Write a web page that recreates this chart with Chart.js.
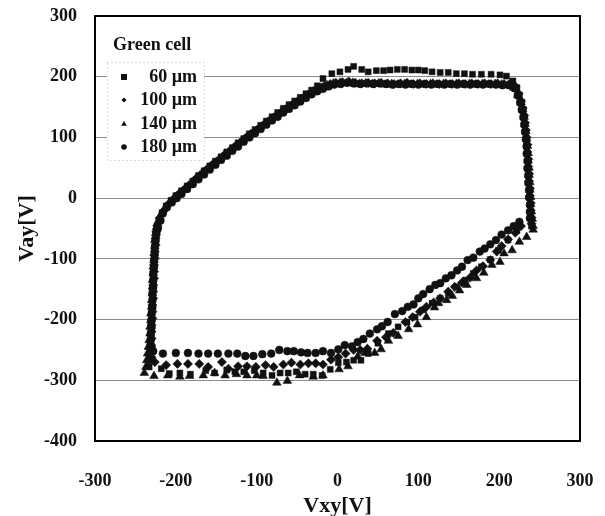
<!DOCTYPE html>
<html><head><meta charset="utf-8">
<script src="https://cdn.jsdelivr.net/npm/chart.js@4.4.0/dist/chart.umd.min.js"></script>
<style>html,body{margin:0;padding:0;background:#fff;}</style>
</head><body>
<canvas id="c" width="605" height="516"></canvas>
<script>
// ---- data ----
const legendTitle = 'Green cell';
const seriesLabels = ['60 µm', '100 µm', '140 µm', '180 µm'];
const xTicks = [-300, -200, -100, 0, 100, 200, 300];
const yTicks = [-400, -300, -200, -100, 0, 100, 200, 300];
const xTitle = 'Vxy[V]';
const yTitle = 'Vay[V]';

// 60 µm (squares)
const x60 = [-233,-234,-233,-232,-232,-231,-231,-231,-230,-230,-229,-229,-229,-228,-228,-228,-227,-227,-226,-226,-225,-224,
  -221,-217,-212,-206,-200,-193,-186,-179,-172,-165,-158,-151,-144,-137,-130,-123,-116,-109,-102,-95,-88,-81,-74,-67,-60,-53,-46,-39,-32,-25,-18,
  -7,3,13,20,30,38,48,57,65,74,83,92,100,108,117,127,137,147,157,167,178,190,201,209,217,
  222,225,228,230,231,232,233,234,234,235,236,236,237,237,238,238,239,239,240,240,
  222,211,199,189,178,168,158,147,137,127,117,106,96,86,75,63,50,38,29,20,11,1,-9,
  -19,-30,-40,-51,-61,-71,-81,-92,-103,-116,-127,-137,-152,-163,-182,-195,-208,-218];
const y60 = [-278,-268,-258,-247,-236,-225,-214,-203,-192,-181,-170,-159,-148,-137,-126,-115,-104,-93,-82,-71,-60,-50,
  -36,-24,-13,-4,4,12,20,28,37,45,53,61,68,76,83,91,98,106,113,120,127,134,141,148,154,160,166,172,178,185,197,
  205,208,212,217,212,208,210,210,211,212,212,211,211,210,208,207,207,205,205,204,204,204,203,201,193,
  182,170,158,146,134,122,110,98,86,74,62,50,38,26,14,2,-10,-22,-34,-46,
  -53,-69,-86,-101,-113,-124,-135,-146,-157,-165,-173,-184,-196,-204,-212,-223,-239,-256,-267,-267,-270,-271,-282,
  -292,-290,-290,-286,-288,-288,-292,-288,-284,-286,-286,-283,-288,-284,-290,-288,-289,-281];

// 100 µm (diamonds)
const x100 = [-226,-230,-231,-231,-230,-230,-230,-229,-229,-229,-228,-228,-228,-227,-227,-227,-226,-226,-225,-225,-224,-223,
  -220,-215,-210,-204,-198,-191,-184,-177,-170,-163,-156,-149,-142,-135,-128,-121,-114,-107,-100,-93,-86,-79,-72,-65,-58,-51,-44,-37,-30,-23,-16,-9,
  -2,6,14,22,30,38,46,54,62,70,78,86,94,102,110,118,126,134,142,150,158,166,174,182,190,198,206,214,
  220,224,227,229,231,232,233,234,235,235,236,236,237,237,238,238,239,239,240,240,
  227,220,211,203,197,189,180,172,164,154,145,137,127,119,110,102,93,84,69,60,49,37,28,20,10,1,-8,
  -18,-27,-36,-46,-57,-67,-79,-89,-101,-112,-123,-135,-143,-160,-171,-185,-198,-212];
const y100 = [-270,-262,-252,-242,-231,-220,-209,-198,-187,-176,-165,-154,-143,-132,-121,-110,-99,-88,-77,-66,-55,-45,
  -33,-21,-11,-3,5,13,21,30,38,46,54,61,69,76,84,91,99,106,112,119,126,133,139,146,152,158,164,170,176,181,185,188,
  190,191,192,190,189,190,189,190,189,188,189,190,188,189,188,189,188,189,188,189,188,189,188,189,188,189,188,189,
  184,172,160,148,136,124,112,100,88,76,64,52,40,28,16,4,-8,-20,-32,-42,
  -46,-57,-68,-79,-88,-102,-112,-119,-131,-139,-146,-154,-165,-172,-179,-187,-196,-204,-222,-229,-235,-248,-250,-250,-256,-262,-266,
  -274,-272,-272,-274,-271,-274,-278,-275,-278,-277,-277,-281,-270,-278,-273,-273,-273,-275];

// 140 µm (triangles)
const x140 = [-239,-237,-236,-235,-234,-233,-232,-232,-231,-231,-230,-230,-229,-229,-229,-228,-228,-227,-227,-226,-226,-225,-224,
  -222,-218,-213,-207,-201,-195,-188,-181,-174,-167,-160,-153,-146,-139,-132,-125,-118,-111,-104,-97,-90,-83,-76,-69,-62,-55,-48,-41,-34,-27,-20,-13,
  -5,3,11,19,27,35,43,51,59,67,75,83,91,99,107,115,123,131,139,147,155,163,171,179,187,195,203,211,
  218,223,227,229,231,232,233,234,235,236,236,237,237,238,238,239,239,240,241,242,
  242,234,225,216,206,201,191,181,172,160,151,142,135,125,120,110,99,88,75,63,54,46,34,25,13,2,
  -18,-30,-47,-62,-75,-92,-100,-112,-125,-139,-152,-166,-183,-195,-210,-227];
const y140 = [-288,-278,-267,-256,-245,-234,-223,-212,-201,-190,-179,-168,-157,-146,-135,-124,-113,-102,-91,-80,-69,-58,-48,
  -38,-26,-15,-6,2,9,17,25,34,42,50,57,65,73,80,88,95,102,109,116,123,130,136,143,149,155,161,167,173,178,182,186,
  189,190,189,190,188,189,188,189,187,188,187,188,187,188,187,188,187,188,187,188,187,188,187,188,187,188,187,186,
  182,170,158,146,134,122,110,98,86,74,62,50,38,26,14,2,-10,-22,-34,-46,
  -52,-64,-72,-86,-91,-105,-110,-123,-132,-143,-152,-161,-168,-173,-180,-196,-208,-216,-227,-235,-249,-255,-255,-261,-277,-282,
  -292,-294,-292,-301,-304,-293,-292,-292,-290,-292,-288,-292,-293,-294,-292,-293];

// 180 µm (circles)
const x180 = [-228,-230,-231,-231,-230,-230,-230,-229,-229,-229,-228,-228,-228,-227,-227,-226,-226,-225,-224,-222,
  -219,-216,-211,-205,-199,-193,-186,-179,-172,-165,-158,-151,-144,-137,-130,-123,-116,-109,-102,-95,-88,-81,-74,-67,-60,-53,-46,-39,-32,-25,-18,-11,
  -4,4,12,20,28,36,44,52,60,68,76,84,92,100,108,116,124,132,140,148,156,164,172,180,188,196,204,212,
  219,223,226,228,230,231,232,233,234,234,235,235,236,236,237,237,238,238,238,
  225,218,211,203,196,189,182,176,168,161,154,148,141,134,127,121,114,106,100,94,87,80,71,62,55,49,40,32,25,18,9,1,
  -8,-18,-27,-37,-45,-54,-62,-72,-82,-93,-104,-114,-124,-135,-148,-160,-172,-185,-200,-216];
const y180 = [-252,-244,-234,-224,-213,-202,-191,-180,-169,-158,-147,-136,-125,-114,-103,-92,-81,-70,-59,-49,
  -37,-25,-15,-7,0,7,15,23,31,39,47,55,63,70,78,85,93,100,107,114,121,128,134,141,147,153,159,165,171,176,180,184,
  187,188,190,189,188,189,188,189,188,187,188,187,188,187,188,187,188,187,188,187,188,187,188,187,188,187,186,186,
  181,169,157,145,133,121,109,97,85,73,61,49,37,25,13,1,-11,-23,-33,
  -39,-46,-53,-60,-69,-76,-83,-88,-98,-102,-113,-119,-127,-132,-140,-143,-150,-158,-165,-175,-179,-186,-191,-204,-211,-216,-223,-232,-237,-244,-242,-249,
  -255,-252,-255,-255,-254,-252,-252,-250,-256,-257,-260,-260,-256,-256,-256,-256,-256,-255,-255,-256];

// ---- build ----
function pts(xs, ys) { return xs.map((x, i) => ({ x: x, y: ys[i] })); }
const seriesX = [x60, x100, x140, x180];
const seriesY = [y60, y100, y140, y180];
const pointStyles = ['rect', 'rectRot', 'triangle', 'circle'];
const pointRadii = [4.2, 4.6, 5.0, 3.9];
const INK = '#111111';
const SERIF = '"Liberation Serif", "Times New Roman", serif';

const datasets = seriesLabels.map((lab, i) => ({
  label: lab,
  data: pts(seriesX[i], seriesY[i]),
  pointStyle: pointStyles[i],
  pointRadius: pointRadii[i],
  pointBackgroundColor: INK,
  pointBorderColor: INK,
  pointBorderWidth: 0.5,
  showLine: false
}));

function drawMarker(ctx, style, x, y, r) {
  ctx.beginPath();
  if (style === 'rect') { ctx.rect(x - r, y - r, 2 * r, 2 * r); }
  else if (style === 'rectRot') { ctx.moveTo(x, y - r); ctx.lineTo(x + r, y); ctx.lineTo(x, y + r); ctx.lineTo(x - r, y); ctx.closePath(); }
  else if (style === 'triangle') { ctx.moveTo(x, y - r); ctx.lineTo(x + r * 0.95, y + r * 0.6); ctx.lineTo(x - r * 0.95, y + r * 0.6); ctx.closePath(); }
  else { ctx.arc(x, y, r, 0, Math.PI * 2); }
  ctx.fill();
}

const framePlugin = {
  id: 'frame',
  afterDatasetsDraw(chart) {
    const { ctx, chartArea: a } = chart;
    ctx.save();
    // legend box
    const bx = a.left + 12, by = a.top + 46, bw = 97, bh = 98;
    ctx.fillStyle = '#ffffff';
    ctx.fillRect(bx, by, bw, bh);
    ctx.setLineDash([1, 3]);
    ctx.strokeStyle = '#bdbdbd';
    ctx.lineWidth = 1;
    ctx.strokeRect(bx + 0.5, by + 0.5, bw, bh);
    ctx.setLineDash([]);
    ctx.fillStyle = INK;
    ctx.font = 'bold 18px ' + SERIF;
    ctx.textBaseline = 'middle';
    ctx.textAlign = 'left';
    ctx.fillText(legendTitle, a.left + 18, a.top + 29);
    const rowY = [61, 84, 108, 131];
    const mSize = [3, 2.6, 3, 2.8];
    seriesLabels.forEach((lab, i) => {
      const y = a.top + rowY[i];
      drawMarker(ctx, pointStyles[i], a.left + 29, y, mSize[i]);
      ctx.textAlign = 'right';
      ctx.fillText(lab, a.left + 102, y);
    });
    // plot frame
    ctx.strokeStyle = '#000';
    ctx.lineWidth = 2;
    ctx.strokeRect(a.left, a.top, a.right - a.left, a.bottom - a.top);
    ctx.restore();
  }
};

new Chart(document.getElementById('c'), {
  type: 'scatter',
  data: { datasets: datasets },
  options: {
    responsive: false,
    animation: false,
    layout: { padding: { left: 0, top: 16, right: 25, bottom: 0 } },
    plugins: { legend: { display: false }, tooltip: { enabled: false } },
    scales: {
      x: {
        type: 'linear', min: xTicks[0], max: xTicks[xTicks.length - 1],
        afterBuildTicks: s => { s.ticks = xTicks.map(v => ({ value: v })); },
        afterFit: s => { s.height = 75; s.paddingLeft = 0; s.paddingRight = 0; },
        grid: { display: false, drawTicks: false },
        border: { display: false },
        ticks: { color: INK, padding: 30, font: { family: SERIF, size: 18, weight: 'bold' } },
        title: { display: true, text: xTitle, color: INK, padding: { top: 0, bottom: -1 }, font: { family: SERIF, size: 22, weight: 'bold', lineHeight: 1 } }
      },
      y: {
        type: 'linear', min: yTicks[0], max: yTicks[yTicks.length - 1],
        afterBuildTicks: s => { s.ticks = yTicks.map(v => ({ value: v })); },
        afterFit: s => { s.width = 95; s.paddingTop = 0; s.paddingBottom = 0; },
        grid: {
          drawTicks: false,
          lineWidth: 1,
          color: c => (c.tick && (c.tick.value === yTicks[0] || c.tick.value === yTicks[yTicks.length - 1])) ? 'rgba(0,0,0,0)' : '#8c8c8c'
        },
        border: { display: false },
        ticks: { color: INK, padding: 18, font: { family: SERIF, size: 18, weight: 'bold' } },
        title: { display: true, text: yTitle, color: INK, padding: { top: 16, bottom: 0 }, font: { family: SERIF, size: 22, weight: 'bold', lineHeight: 1 } }
      }
    }
  },
  plugins: [framePlugin]
});
</script>
</body></html>
